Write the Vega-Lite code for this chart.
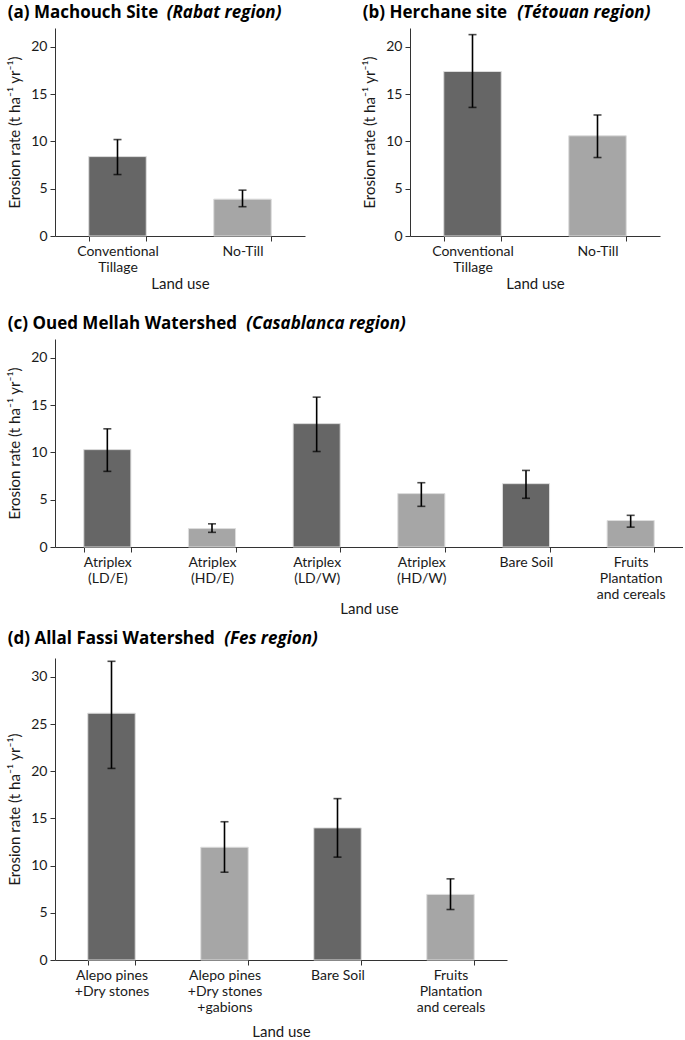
{
  "$schema": "https://vega.github.io/schema/vega-lite/v6.json",
  "padding": {"left": 7, "top": 4, "right": 0, "bottom": 0},
  "background": "white",
  "datasets": {
    "a": [
      {"landuse": "Conventional\nTillage", "rate": 8.4, "lo": 6.5, "hi": 10.2},
      {"landuse": "No-Till", "rate": 3.9, "lo": 3.1, "hi": 4.85}
    ],
    "b": [
      {"landuse": "Conventional\nTillage", "rate": 17.4, "lo": 13.6, "hi": 21.3},
      {"landuse": "No-Till", "rate": 10.6, "lo": 8.3, "hi": 12.8}
    ],
    "c": [
      {"landuse": "Atriplex\n(LD/E)", "rate": 10.3, "lo": 8.0, "hi": 12.5},
      {"landuse": "Atriplex\n(HD/E)", "rate": 1.95, "lo": 1.55, "hi": 2.45},
      {"landuse": "Atriplex\n(LD/W)", "rate": 13.05, "lo": 10.1, "hi": 15.85},
      {"landuse": "Atriplex\n(HD/W)", "rate": 5.65, "lo": 4.3, "hi": 6.8},
      {"landuse": "Bare Soil", "rate": 6.7, "lo": 5.15, "hi": 8.1},
      {"landuse": "Fruits\nPlantation\nand cereals", "rate": 2.8, "lo": 2.1, "hi": 3.35}
    ],
    "d": [
      {"landuse": "Alepo pines\n+Dry stones", "rate": 26.15, "lo": 20.3, "hi": 31.65},
      {"landuse": "Alepo pines\n+Dry stones\n+gabions", "rate": 11.95, "lo": 9.3, "hi": 14.65},
      {"landuse": "Bare Soil", "rate": 14.0, "lo": 10.9, "hi": 17.1},
      {"landuse": "Fruits\nPlantation\nand cereals", "rate": 6.95, "lo": 5.35, "hi": 8.6}
    ]
  },
  "vconcat": [
    {
      "vconcat": [
        {
          "hconcat": [
            {
              "title": {"text": "(a) Machouch Site", "subtitle": "\u2060\u00a0\u00a0\u00a0\u00a0\u00a0\u00a0\u00a0\u00a0\u00a0\u00a0\u00a0\u00a0\u00a0\u00a0\u00a0\u00a0\u00a0\u00a0\u00a0\u00a0\u00a0\u00a0\u00a0\u00a0\u00a0\u00a0\u00a0\u00a0\u00a0\u00a0\u00a0\u00a0\u00a0\u00a0\u00a0\u00a0(Rabat region)"},
              "width": 250, "height": 208,
              "data": {"name": "a"},
              "encoding": {"x": {"field": "landuse", "type": "nominal", "sort": null, "scale": {"paddingInner": 0.54, "paddingOuter": 0.27}, "axis": {"title": "Land use", "labelExpr": "split(datum.label, '\\n')", "titlePadding": 2}}},
              "layer": [
                {"mark": {"type": "bar", "stroke": "#dddddd", "strokeWidth": 1},
                 "encoding": {"y": {"field": "rate", "type": "quantitative", "scale": {"domain": [0, 22], "nice": false}, "axis": {"title": "Erosion rate (t ha⁻¹ yr⁻¹)", "values": [0, 5, 10, 15, 20]}},
                   "color": {"field": "landuse", "type": "nominal", "legend": null, "scale": {"domain": ["Conventional\nTillage", "No-Till", "Atriplex\n(LD/E)", "Atriplex\n(HD/E)", "Atriplex\n(LD/W)", "Atriplex\n(HD/W)", "Bare Soil", "Fruits\nPlantation\nand cereals", "Alepo pines\n+Dry stones", "Alepo pines\n+Dry stones\n+gabions"], "range": ["#666666", "#a6a6a6", "#666666", "#a6a6a6", "#666666", "#a6a6a6", "#666666", "#a6a6a6", "#666666", "#a6a6a6"]}}}},
                {"mark": {"type": "errorbar", "color": "black", "thickness": 1.6, "ticks": {"size": 8, "thickness": 1.6, "color": "black"}},
                 "encoding": {"y": {"field": "lo", "type": "quantitative", "title": "Erosion rate (t ha⁻¹ yr⁻¹)"}, "y2": {"field": "hi"}}}
              ]
            },
            {
              "title": {"text": "(b) Herchane site", "subtitle": "\u2060\u00a0\u00a0\u00a0\u00a0\u00a0\u00a0\u00a0\u00a0\u00a0\u00a0\u00a0\u00a0\u00a0\u00a0\u00a0\u00a0\u00a0\u00a0\u00a0\u00a0\u00a0\u00a0\u00a0\u00a0\u00a0\u00a0\u00a0\u00a0\u00a0\u00a0\u00a0\u00a0\u00a0\u00a0\u00a0(Tétouan region)"},
              "width": 250, "height": 208,
              "data": {"name": "b"},
              "encoding": {"x": {"field": "landuse", "type": "nominal", "sort": null, "scale": {"paddingInner": 0.54, "paddingOuter": 0.27}, "axis": {"title": "Land use", "labelExpr": "split(datum.label, '\\n')", "titlePadding": 2}}},
              "layer": [
                {"mark": {"type": "bar", "stroke": "#dddddd", "strokeWidth": 1},
                 "encoding": {"y": {"field": "rate", "type": "quantitative", "scale": {"domain": [0, 22], "nice": false}, "axis": {"title": "Erosion rate (t ha⁻¹ yr⁻¹)", "values": [0, 5, 10, 15, 20]}},
                   "color": {"field": "landuse", "type": "nominal", "legend": null}}},
                {"mark": {"type": "errorbar", "color": "black", "thickness": 1.6, "ticks": {"size": 8, "thickness": 1.6, "color": "black"}},
                 "encoding": {"y": {"field": "lo", "type": "quantitative", "title": "Erosion rate (t ha⁻¹ yr⁻¹)"}, "y2": {"field": "hi"}}}
              ]
            }
          ],
          "spacing": 57
        },
        {
          "title": {"text": "(c) Oued Mellah Watershed", "subtitle": "\u2060\u00a0\u00a0\u00a0\u00a0\u00a0\u00a0\u00a0\u00a0\u00a0\u00a0\u00a0\u00a0\u00a0\u00a0\u00a0\u00a0\u00a0\u00a0\u00a0\u00a0\u00a0\u00a0\u00a0\u00a0\u00a0\u00a0\u00a0\u00a0\u00a0\u00a0\u00a0\u00a0\u00a0\u00a0\u00a0\u00a0\u00a0\u00a0\u00a0\u00a0\u00a0\u00a0\u00a0\u00a0\u00a0\u00a0\u00a0\u00a0\u00a0\u00a0\u00a0\u00a0\u00a0\u00a0(Casablanca region)"},
          "width": 628, "height": 208,
          "data": {"name": "c"},
          "encoding": {"x": {"field": "landuse", "type": "nominal", "sort": null, "scale": {"paddingInner": 0.55, "paddingOuter": 0.275}, "axis": {"title": "Land use", "labelExpr": "split(datum.label, '\\n')", "titlePadding": 0}}},
          "layer": [
            {"mark": {"type": "bar", "stroke": "#dddddd", "strokeWidth": 1},
             "encoding": {"y": {"field": "rate", "type": "quantitative", "scale": {"domain": [0, 22], "nice": false}, "axis": {"title": "Erosion rate (t ha⁻¹ yr⁻¹)", "values": [0, 5, 10, 15, 20]}},
               "color": {"field": "landuse", "type": "nominal", "legend": null}}},
            {"mark": {"type": "errorbar", "color": "black", "thickness": 1.6, "ticks": {"size": 8, "thickness": 1.6, "color": "black"}},
             "encoding": {"y": {"field": "lo", "type": "quantitative", "title": "Erosion rate (t ha⁻¹ yr⁻¹)"}, "y2": {"field": "hi"}}}
          ]
        }
      ],
      "spacing": 24
    },
    {
      "title": {"text": "(d) Allal Fassi Watershed", "subtitle": "\u2060\u00a0\u00a0\u00a0\u00a0\u00a0\u00a0\u00a0\u00a0\u00a0\u00a0\u00a0\u00a0\u00a0\u00a0\u00a0\u00a0\u00a0\u00a0\u00a0\u00a0\u00a0\u00a0\u00a0\u00a0\u00a0\u00a0\u00a0\u00a0\u00a0\u00a0\u00a0\u00a0\u00a0\u00a0\u00a0\u00a0\u00a0\u00a0\u00a0\u00a0\u00a0\u00a0\u00a0\u00a0\u00a0\u00a0\u00a0\u00a0\u00a0(Fes region)", "offset": 10},
      "width": 452, "height": 302,
      "data": {"name": "d"},
      "encoding": {"x": {"field": "landuse", "type": "nominal", "sort": null, "scale": {"paddingInner": 0.58, "paddingOuter": 0.29}, "axis": {"title": "Land use", "labelExpr": "split(datum.label, '\\n')", "titlePadding": 10}}},
      "layer": [
        {"mark": {"type": "bar", "stroke": "#dddddd", "strokeWidth": 1},
         "encoding": {"y": {"field": "rate", "type": "quantitative", "scale": {"domain": [0, 32], "nice": false}, "axis": {"title": "Erosion rate (t ha⁻¹ yr⁻¹)", "values": [0, 5, 10, 15, 20, 25, 30]}},
           "color": {"field": "landuse", "type": "nominal", "legend": null}}},
        {"mark": {"type": "errorbar", "color": "black", "thickness": 1.6, "ticks": {"size": 8, "thickness": 1.6, "color": "black"}},
         "encoding": {"y": {"field": "lo", "type": "quantitative", "title": "Erosion rate (t ha⁻¹ yr⁻¹)"}, "y2": {"field": "hi"}}}
      ]
    }
  ],
  "spacing": 14,
  "config": {
    "font": "Lato",
    "view": {"stroke": null},
    "axis": {"grid": false, "domainColor": "#333333", "tickColor": "#333333", "labelColor": "#1a1a1a", "titleColor": "#1a1a1a", "labelFont": "Lato", "titleFont": "Lato", "labelFontSize": 14, "titleFontSize": 15, "titleFontWeight": "normal", "tickSize": 5, "labelPadding": 3},
    "axisX": {"labelAngle": 0, "tickBand": "extent", "labelLineHeight": 16, "labelBaseline": "top"},
    "axisY": {"titlePadding": 8},
    "title": {"anchor": "start", "frame": "bounds", "font": "Open Sans", "fontSize": 17, "fontWeight": "bold", "color": "black", "subtitleFont": "Open Sans", "subtitleFontSize": 17, "subtitleFontWeight": "bold", "subtitleFontStyle": "italic", "subtitleColor": "black", "subtitlePadding": -17, "offset": 6}
  }
}
